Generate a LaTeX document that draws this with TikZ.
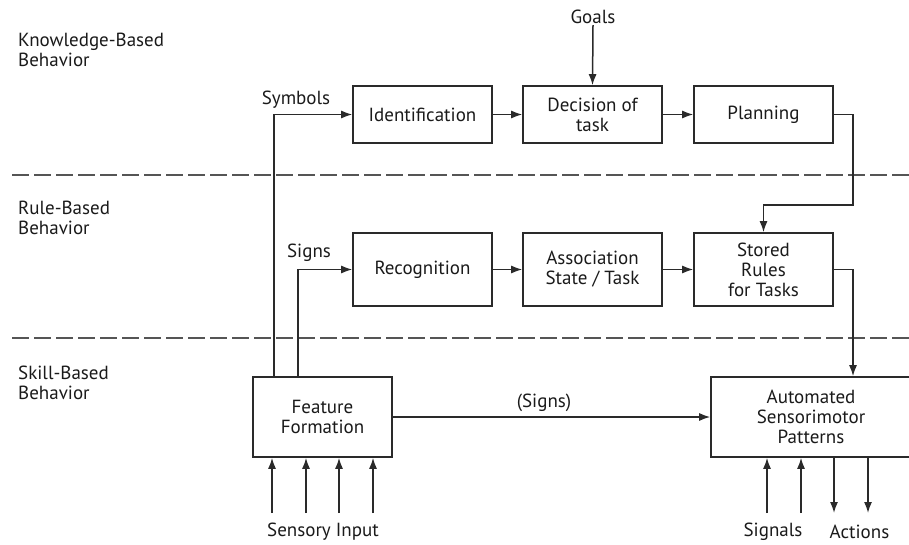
\documentclass[tikz,border=0pt]{standalone}
\usepackage{fontspec}
\setmainfont{PT Sans}
\usetikzlibrary{arrows.meta,calc}
\definecolor{ink}{HTML}{1A1A1A}
\definecolor{ln}{HTML}{2A2A2A}
\definecolor{dl}{HTML}{555555}
\begin{document}
\begin{tikzpicture}[x=1pt,y=-1pt,
  font=\fontsize{19}{20}\selectfont,
  box/.style={draw=ln,line width=1.6pt,rectangle,minimum width=139pt,text=ink,align=center,inner sep=2pt},
  lbl/.style={text=ink,inner sep=1pt},
  side/.style={text=ink,align=left,anchor=west,inner sep=0pt},
  conn/.style={draw=ln,line width=1.5pt,-{Latex[length=11pt,width=8pt]}},
  sep/.style={draw=dl,line width=2pt,dash pattern=on 17pt off 5pt}]
\useasboundingbox (0,0) rectangle (909,545);
% separators
\draw[sep] (12,175) -- (915,175);
\draw[sep] (12,338) -- (915,338);
% side labels
\node[side] (kb) at (18,50) {Knowledge-Based\\Behavior};
\node[side] (rb) at (18,218) {Rule-Based\\Behavior};
\node[side] (sb) at (18,383) {Skill-Based\\Behavior};
% boxes
\node[box,minimum height=57pt] (ident) at (422.5,114.5) {Identification};
\node[box,minimum height=57pt] (dec) at (592.5,114.5) {Decision of\\task};
\node[box,minimum height=57pt] (plan) at (763.5,114.5) {Planning};
\node[box,minimum height=73pt] (recog) at (422.5,269.5) {Recognition};
\node[box,minimum height=73pt] (assoc) at (592.5,269.5) {Association\\State / Task};
\node[box,minimum height=73pt] (stored) at (763.5,269.5) {Stored\\Rules\\for Tasks};
\node[box,minimum height=80pt] (ff) at (322.5,417) {Feature\\Formation};
\node[box,minimum height=80pt,minimum width=200pt] (auto) at (811,417) {Automated\\Sensorimotor\\Patterns};
% labels
\node[lbl] (goals) at (593,17) {Goals};
\node[lbl] (sym) at (296,100) {Symbols};
\node[lbl] (signs) at (309,253) {Signs};
\node[lbl] (signs2) at (544,403) {(Signs)};
\node[lbl] (sens) at (323,532) {Sensory Input};
\node[lbl] (sig) at (773,532) {Signals};
\node[lbl] (act) at (859.5,532) {Actions};
% connectors
\draw[conn] (goals.south) -- (dec.north);
\draw[conn] (ident) -- (dec);
\draw[conn] (dec) -- (plan);
\draw[conn] (recog) -- (assoc);
\draw[conn] (assoc) -- (stored);
\coordinate (p1) at (853,114.5);
\coordinate (p2) at (853,205);
\draw[conn] (plan.east) -- (p1) -- (p2) -- (p2 -| stored.north) -- (stored.north);
\coordinate (q1) at (853,269.5);
\draw[conn] (stored.east) -- (q1) -- (q1 |- auto.north);
\coordinate (f1) at ($(ff.north)+(-48.5,0)$);
\coordinate (f2) at ($(ff.north)+(-24.5,0)$);
\draw[conn] (f1) |- (ident.west);
\draw[conn] (f2) |- (recog.west);
\draw[conn] (ff.east) -- (auto.west);
% sensory inputs
\foreach \x [count=\i] in {272,306,339,373}{
  \coordinate (si\i) at (\x,513);
  \draw[conn] (si\i) -- (si\i |- ff.south);
}
\foreach \x [count=\i] in {767,801}{
  \coordinate (sg\i) at (\x,513);
  \draw[conn] (sg\i) -- (sg\i |- auto.south);
}
\foreach \x [count=\i] in {834,868}{
  \coordinate (ac\i) at (\x,513);
  \draw[conn] (ac\i |- auto.south) -- (ac\i);
}
\end{tikzpicture}
\end{document}
